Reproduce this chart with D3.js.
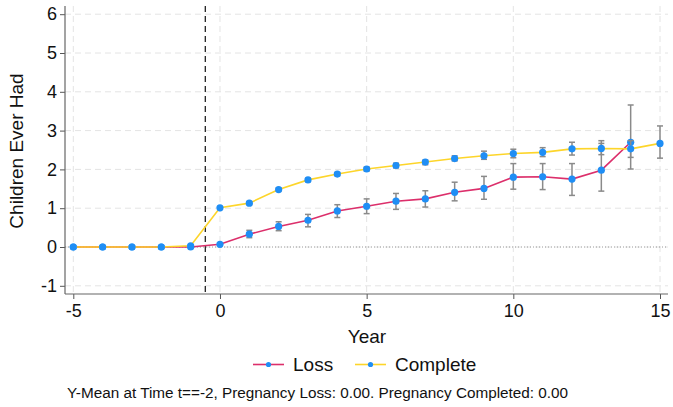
<!DOCTYPE html>
<html><head><meta charset="utf-8">
<script src="https://cdn.jsdelivr.net/npm/d3@7"></script>
<style>body{margin:0;background:#fff}svg{display:block;font-family:"Liberation Sans",Arial,Helvetica,sans-serif}</style>
</head><body><svg id="c" width="673" height="407"></svg>
<script>
const years = [-5,-4,-3,-2,-1,0,1,2,3,4,5,6,7,8,9,10,11,12,13,14,15];
const lossYears = [-5,-4,-3,-2,-1,0,1,2,3,4,5,6,7,8,9,10,11,12,13,14];
const lossMean = [0,0,0,0,0,0.07,0.33,0.53,0.69,0.93,1.05,1.18,1.24,1.41,1.51,1.80,1.81,1.75,1.98,2.70];
const lossLo   = [0,0,0,0,0,0.05,0.24,0.42,0.52,0.76,0.86,0.97,1.03,1.19,1.23,1.49,1.48,1.33,1.44,2.01];
const lossHi   = [0,0,0,0,0,0.09,0.43,0.65,0.84,1.09,1.24,1.38,1.45,1.67,1.82,2.15,2.15,2.15,2.74,3.66];
const compMean = [0,0,0,0,0.03,1.01,1.13,1.48,1.73,1.88,2.01,2.10,2.19,2.28,2.35,2.41,2.44,2.53,2.54,2.53,2.67];
const compLo   = [0,0,0,0,0.02,0.98,1.09,1.44,1.69,1.84,1.96,2.04,2.12,2.22,2.26,2.30,2.33,2.37,2.38,2.31,2.29];
const compHi   = [0,0,0,0,0.04,1.04,1.17,1.52,1.77,1.92,2.06,2.16,2.24,2.35,2.47,2.52,2.56,2.70,2.67,2.74,3.12];
const xTicks = [-5,0,5,10,15];
const yTicks = [-1,0,1,2,3,4,5,6];
const eventLine = -0.5;
const seriesNames = ["Loss","Complete"];
const noteText = "Y-Mean at Time t==-2, Pregnancy Loss: 0.00. Pregnancy Completed: 0.00";

const svg = d3.select("#c");
const pL = 65, pR = 668, pT = 6, pB = 294;
const x = d3.scaleLinear().domain([-5,15]).range([73.3,660]);
const y = d3.scaleLinear().domain([-1,6]).range([285.8,14.2]);
const cLoss = "#dc2f6b", cComp = "#fdd52a", cMark = "#1f8ef5", cErr = "#8a8a8a";
const fmt = d => String(d);

// grid
const g = svg.append("g");
g.selectAll(".gy").data(yTicks).join("line")
 .attr("x1",pL).attr("x2",pR).attr("y1",d=>y(d)).attr("y2",d=>y(d))
 .attr("stroke","#e4e4e4").attr("stroke-width",1).attr("stroke-dasharray","6,4");
g.selectAll(".gx").data(xTicks).join("line")
 .attr("x1",d=>x(d)).attr("x2",d=>x(d)).attr("y1",pT).attr("y2",pB)
 .attr("stroke","#e4e4e4").attr("stroke-width",1).attr("stroke-dasharray","6,4");
// zero dotted
g.append("line").attr("x1",pL).attr("x2",pR).attr("y1",y(0)).attr("y2",y(0))
 .attr("stroke","#9a9a9a").attr("stroke-width",1).attr("stroke-dasharray","1,2");
// event line
g.append("line").attr("x1",x(eventLine)).attr("x2",x(eventLine)).attr("y1",pT).attr("y2",pB)
 .attr("stroke","#222").attr("stroke-width",1.3).attr("stroke-dasharray","6,4");

// axes
const yAxis = d3.axisLeft(y).tickValues(yTicks).tickSize(5).tickPadding(3).tickFormat(fmt);
const ya = svg.append("g").attr("transform",`translate(${pL},0)`).call(yAxis);
const xAxis = d3.axisBottom(x).tickValues(xTicks).tickSize(5).tickPadding(5).tickFormat(fmt);
const xa = svg.append("g").attr("transform",`translate(0,${pB})`).call(xAxis);
[ya,xa].forEach(a=>{
  a.select(".domain").remove();
  a.selectAll(".tick line").attr("stroke","#555");
  a.selectAll(".tick text").attr("font-size",18).attr("fill","#111").attr("font-family","Liberation Sans, Arial, sans-serif");
});
xa.selectAll(".tick text").attr("dy","0.72em");
svg.append("line").attr("x1",pL).attr("x2",pL).attr("y1",pT).attr("y2",pB).attr("stroke","#666").attr("stroke-width",1.2);
svg.append("line").attr("x1",pL).attr("x2",pR).attr("y1",pB).attr("y2",pB).attr("stroke","#666").attr("stroke-width",1.2);

// series
function drawSeries(xs, mean, lo, hi, color){
  const data = xs.map((d,i)=>({x:d,m:mean[i],lo:lo[i],hi:hi[i]}));
  const gg = svg.append("g");
  gg.append("path").datum(data).attr("fill","none").attr("stroke",color).attr("stroke-width",1.6)
    .attr("d",d3.line().x(d=>x(d.x)).y(d=>y(d.m)));
  const eb = data.filter(d=>y(d.lo)-y(d.hi)>2);
  gg.selectAll(".e").data(eb).join("line").attr("x1",d=>x(d.x)).attr("x2",d=>x(d.x))
    .attr("y1",d=>y(d.lo)).attr("y2",d=>y(d.hi)).attr("stroke",cErr).attr("stroke-width",1.5);
  gg.selectAll(".cl").data(eb).join("line").attr("x1",d=>x(d.x)-3).attr("x2",d=>x(d.x)+3)
    .attr("y1",d=>y(d.lo)).attr("y2",d=>y(d.lo)).attr("stroke",cErr).attr("stroke-width",1.5);
  gg.selectAll(".ch").data(eb).join("line").attr("x1",d=>x(d.x)-3).attr("x2",d=>x(d.x)+3)
    .attr("y1",d=>y(d.hi)).attr("y2",d=>y(d.hi)).attr("stroke",cErr).attr("stroke-width",1.5);
  return {gg,data};
}
const sL = drawSeries(lossYears, lossMean, lossLo, lossHi, cLoss);
const sC = drawSeries(years, compMean, compLo, compHi, cComp);
[sL,sC].forEach(s=>{
  s.gg.selectAll(".m").data(s.data).join("circle").attr("cx",d=>x(d.x)).attr("cy",d=>y(d.m))
    .attr("r",3.6).attr("fill",cMark);
});

// titles
svg.append("text").attr("x",367).attr("y",343).attr("text-anchor","middle").attr("font-size",19).attr("fill","#111").text("Year");
svg.append("text").attr("transform","translate(23,151) rotate(-90)").attr("text-anchor","middle").attr("font-size",19).attr("fill","#111").text("Children Ever Had");

// legend
const leg = [{n:seriesNames[0],c:cLoss,x0:253,tx:293},{n:seriesNames[1],c:cComp,x0:355,tx:395}];
const lg = svg.append("g");
leg.forEach(l=>{
  lg.append("line").attr("x1",l.x0).attr("x2",l.x0+31).attr("y1",364.5).attr("y2",364.5).attr("stroke",l.c).attr("stroke-width",1.6);
  lg.append("circle").attr("cx",l.x0+15.5).attr("cy",364.5).attr("r",2.6).attr("fill",cMark);
  lg.append("text").attr("x",l.tx).attr("y",371).attr("font-size",19).attr("fill","#111").text(l.n);
});
svg.append("text").attr("x",67).attr("y",398).attr("font-size",15.3).attr("fill","#111").text(noteText);
</script></body></html>
